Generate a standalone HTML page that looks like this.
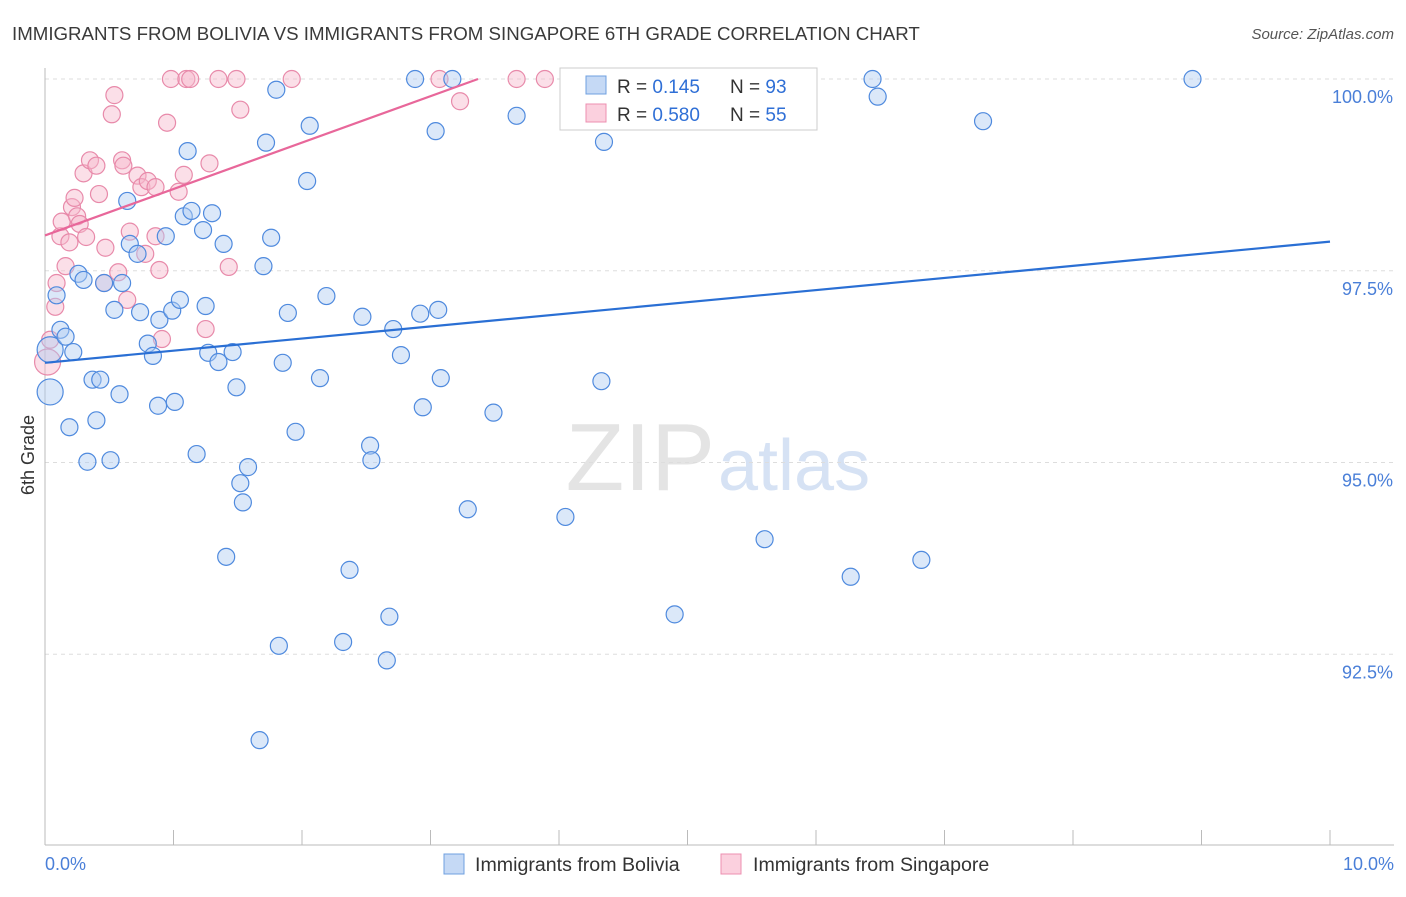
<!DOCTYPE html>
<html><head><meta charset="utf-8"><style>
body{margin:0;background:#fff;font-family:"Liberation Sans",sans-serif}
svg text{font-family:"Liberation Sans",sans-serif}
</style></head><body>
<svg id="chart" width="1406" height="892" xmlns="http://www.w3.org/2000/svg">
<text x="12" y="40" font-size="18.7" fill="#3a3a3a">IMMIGRANTS FROM BOLIVIA VS IMMIGRANTS FROM SINGAPORE 6TH GRADE CORRELATION CHART</text>
<text x="1394" y="39" font-size="15" fill="#555" text-anchor="end" font-style="italic">Source: ZipAtlas.com</text>
<text x="715" y="490" font-size="96" fill="#e4e4e4" text-anchor="end" font-family="Liberation Serif">ZIP</text>
<text x="718" y="490" font-size="72" fill="#d6e2f4">atlas</text>
<g id="grid"></g><g id="axes"></g><g id="pts"></g><g id="lines"></g>
<text x="34" y="455" font-size="18" fill="#333" text-anchor="middle" transform="rotate(-90 34 455)">6th Grade</text>
<g>
<rect x="560" y="68" width="257" height="62" fill="#fff" stroke="#ccc"/>
<rect x="586" y="76" width="20" height="18" fill="#c5d9f5" stroke="#6fa0e0"/>
<rect x="586" y="104" width="20" height="18" fill="#fbd0de" stroke="#ec8fb0"/>
<text x="617" y="93" font-size="19" fill="#333">R = <tspan fill="#2f6fd6">0.145</tspan><tspan x="730">N = </tspan><tspan fill="#2f6fd6">93</tspan></text>
<text x="617" y="121" font-size="19" fill="#333">R = <tspan fill="#2f6fd6">0.580</tspan><tspan x="730">N = </tspan><tspan fill="#2f6fd6">55</tspan></text>
</g>
<g>
<rect x="444" y="854" width="20" height="20" fill="#c5d9f5" stroke="#6fa0e0"/>
<text x="475" y="871" font-size="19.6" fill="#333">Immigrants from Bolivia</text>
<rect x="721" y="854" width="20" height="20" fill="#fbd0de" stroke="#ec8fb0"/>
<text x="753" y="871" font-size="19.6" fill="#333">Immigrants from Singapore</text>
</g>
</svg>
<script>
const blueX=[.04,.04,.09,.12,.16,.22,.19,.26,.30,.33,.37,.40,.43,.46,.51,.54,.58,.60,.64,.66,.72,.74,.80,.84,.88,.89,.94,.99,1.01,1.05,1.08,1.11,1.14,1.18,1.23,1.25,1.27,1.30,1.35,1.39,1.41,1.46,1.49,1.52,1.54,1.58,1.67,1.70,1.72,1.76,1.80,1.82,1.85,1.89,1.95,2.04,2.06,2.14,2.19,2.32,2.37,2.47,2.53,2.54,2.66,2.68,2.71,2.77,2.88,2.92,2.94,3.04,3.06,3.08,3.17,3.29,3.49,3.67,4.05,4.09,4.33,4.35,4.90,4.99,5.56,5.60,6.27,6.44,6.48,6.82,7.30,8.93];
const blueY=[95.92,96.47,97.18,96.73,96.64,96.44,95.46,97.46,97.38,95.01,96.08,95.55,96.08,97.34,95.03,96.99,95.89,97.34,98.41,97.85,97.72,96.96,96.55,96.39,95.74,96.86,97.95,96.98,95.79,97.12,98.21,99.06,98.28,95.11,98.03,97.04,96.43,98.25,96.31,97.85,93.77,96.44,95.98,94.73,94.48,94.94,91.38,97.56,99.17,97.93,99.86,92.61,96.30,96.95,95.40,98.67,99.39,96.10,97.17,92.66,93.60,96.90,95.22,95.03,92.42,92.99,96.74,96.40,100,96.94,95.72,99.32,96.99,96.10,100,94.39,95.65,99.52,94.29,100,96.06,99.18,93.02,100,100,94.00,93.51,100,99.77,93.73,99.45,100];
const pinkX=[.02,.04,.08,.09,.12,.13,.16,.19,.21,.23,.25,.27,.30,.32,.35,.40,.42,.46,.47,.52,.54,.57,.60,.61,.64,.66,.72,.75,.78,.80,.86,.86,.89,.91,.95,.98,1.04,1.08,1.10,1.13,1.25,1.28,1.35,1.43,1.49,1.52,1.92,3.07,3.23,3.67,3.89];
const pinkY=[96.31,96.60,97.03,97.34,97.95,98.14,97.56,97.87,98.33,98.45,98.21,98.11,98.77,97.94,98.94,98.87,98.50,97.34,97.80,99.54,99.79,97.48,98.94,98.87,97.12,98.01,98.74,98.59,97.72,98.67,98.59,97.95,97.51,96.61,99.43,100,98.53,98.75,100,100,96.74,98.90,100,97.55,100,99.60,100,100,99.71,100,100];
const blueBig=[0,1], pinkBig=[0];
const blueTrend=[96.30,97.88];
const pinkTrend=[97.96,100,3.37];
const yTicks=[100,97.5,95,92.5];
const yTickLabels=["100.0%","97.5%","95.0%","92.5%"];
const xTickVals=[0,1,2,3,4,5,6,7,8,9,10];

const NS="http://www.w3.org/2000/svg";
const X=v=>45+v*128.5, Y=v=>79+(100-v)*76.7;
function mk(p,t,a){const e=document.createElementNS(NS,t);for(const k in a)e.setAttribute(k,a[k]);p.appendChild(e);return e;}
const grid=document.getElementById('grid'),axes=document.getElementById('axes'),pts=document.getElementById('pts'),lines=document.getElementById('lines');
yTicks.forEach((t,i)=>{
  const l=mk(grid,'line',{x1:45,x2:1394,y1:Y(t),y2:Y(t),stroke:'#ddd','stroke-dasharray':'4 4'});
  
  
  const tx=mk(axes,'text',{x:1393,y:Y(t)+24,'font-size':18,fill:'#4a7fd8','text-anchor':'end'});
  tx.textContent=yTickLabels[i];
  
  
});
const xa=mk(axes,'line',{x1:45,x2:1394,y1:845,y2:845,stroke:'#bbb'});


const ya=mk(axes,'line',{x1:45,x2:45,y1:68,y2:845,stroke:'#bbb'});


xTickVals.forEach(v=>{
  const t=mk(axes,'line',{x1:X(v),x2:X(v),y1:830,y2:845,stroke:'#bbb'});
  
  
});
const xl0=mk(axes,'text',{x:45,y:870,'font-size':18,fill:'#4a7fd8'});xl0.textContent='0.0%';


const xl1=mk(axes,'text',{x:1394,y:870,'font-size':18,fill:'#4a7fd8','text-anchor':'end'});xl1.textContent='10.0%';


function dots(xs,ys,big,fill,stroke,name){
  xs.forEach((x,i)=>{
    const c=mk(pts,'circle',{cx:X(x),cy:Y(ys[i]),r:big.includes(i)?13:8.5,fill:fill,'fill-opacity':0.45,stroke:stroke,'stroke-width':1.2});
    
    
  });
}
dots(pinkX,pinkY,pinkBig,'#f7b8cc','#e88aaa','point-singapore');
dots(blueX,blueY,blueBig,'#b0cdf2','#4f8ade','point-bolivia');
const bl=mk(lines,'line',{x1:X(0),y1:Y(blueTrend[0]),x2:X(10),y2:Y(blueTrend[1]),stroke:'#2a6fd4','stroke-width':2.2});


const pl=mk(lines,'line',{x1:X(0),y1:Y(pinkTrend[0]),x2:X(pinkTrend[2]),y2:Y(pinkTrend[1]),stroke:'#e8679a','stroke-width':2.2});


</script>
</body></html>
